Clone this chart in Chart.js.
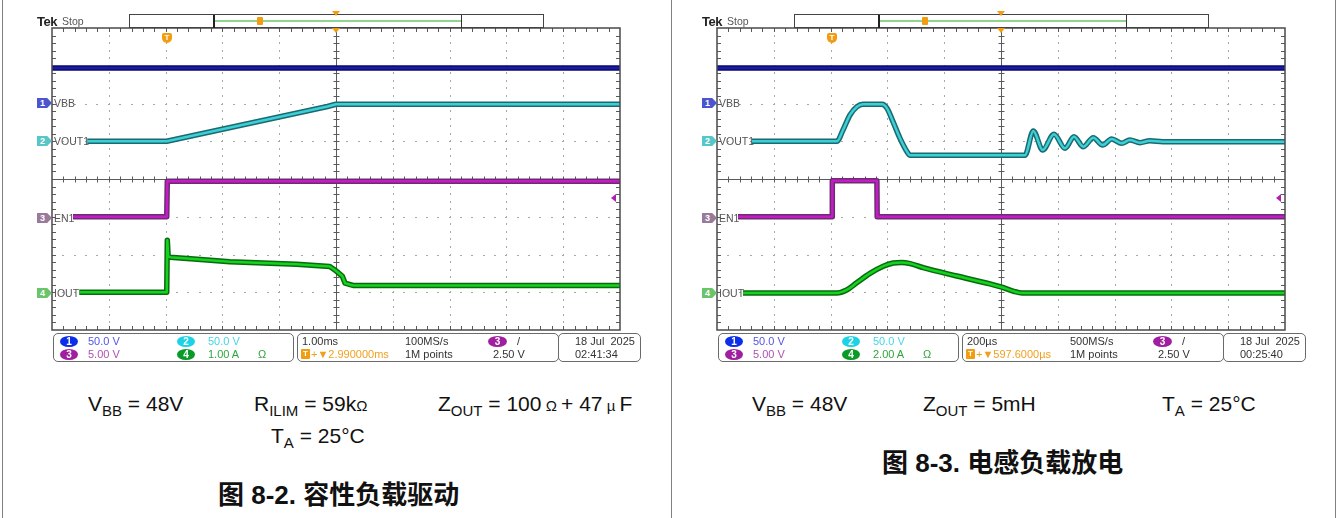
<!DOCTYPE html>
<html><head><meta charset="utf-8">
<script src="https://cdn.jsdelivr.net/npm/chart.js@4"></script>
<style>
html,body{margin:0;padding:0;background:#fff;}
body{width:1338px;height:518px;position:relative;overflow:hidden;font-family:"Liberation Sans",Arial,sans-serif;}
.abs{position:absolute;white-space:nowrap;}
.vline{position:absolute;width:1px;background:#808080;top:0;height:518px;}
canvas{position:absolute;}
.tek{font-weight:bold;font-size:13px;line-height:13px;color:#222;letter-spacing:-0.5px;}
.stop{font-size:10.5px;line-height:11px;color:#555;}
.st{font-size:11px;line-height:11px;color:#444;}
.badge{width:18px;height:11px;border-radius:50%;color:#fff;font-size:10px;line-height:11px;text-align:center;font-weight:bold;}
.box{border:1px solid #6a6a6a;border-radius:5px;background:#fff;}
.chl{font-size:10.5px;line-height:11px;color:#555;}
.pent{width:15px;height:10px;clip-path:polygon(0 0,68% 0,100% 50%,68% 100%,0 100%);font-size:9px;line-height:10px;color:#fff;text-indent:3px;font-weight:bold;}
.tri{width:0;height:0;border-left:4px solid transparent;border-right:4px solid transparent;border-top:5px solid #f39c12;}
.tmk{width:10px;height:10px;background:#f39c12;border-radius:2px 2px 5px 5px;color:#fff;font-size:8px;line-height:10px;text-align:center;font-weight:bold;}
.cap{font-size:21px;line-height:21px;color:#111;}
.cap sub{font-size:15px;vertical-align:-5px;line-height:0;}
.cap .sm{font-size:15px;}
.title{font-family:"Liberation Sans","Noto Sans CJK SC",sans-serif;font-weight:bold;font-size:26px;line-height:26px;color:#111;}
</style></head>
<body>
<div class="vline" style="left:2px"></div>
<div class="vline" style="left:671px"></div>
<div class="vline" style="left:1335px"></div>
<canvas id="cl" width="592" height="320" style="left:40px;top:20px"></canvas>
<canvas id="cr" width="592" height="320" style="left:705px;top:20px"></canvas>
<script>
// ---------------- DATA ----------------
// Left capture (capacitive load): time in ms from left edge of screen, 1 ms/div
const L_CH1_T = [0, 10];
const L_CH1_V = [47, 47];
const L_CH2_T = [0.62, 2.02, 4.85, 5.0, 10];
const L_CH2_V = [0, 0, 46, 49, 49];
const L_CH3_T = [0.37, 2.02, 2.03, 10];
const L_CH3_V = [0, 0, 4.7, 4.7];
const L_CH4_T = [0.48, 2.02, 2.03, 2.045, 2.08, 2.5, 3.13, 4.31, 4.89, 4.98, 5.11, 5.16, 5.3, 10];
const L_CH4_A = [0, 0, 1.38, 0.95, 0.93, 0.88, 0.81, 0.74, 0.68, 0.59, 0.43, 0.24, 0.18, 0.18];

// Right capture (inductive load): time in µs from left edge of screen, 200 µs/div
const R_CH1_T = [0, 2000];
const R_CH1_V = [47, 47];
const R_CH2_T = [123, 422.5, 443.7, 468.3, 493, 514, 581, 598.6, 619.7, 644.4, 669, 679.6, 1084.5, 1113.7, 1146.8, 1186.6, 1225.4, 1257, 1289.8, 1325, 1358, 1389.7, 1425, 1454, 1489, 1524, 1570, 2000];
const R_CH2_V = [0, 0, 14.9, 34.8, 45.8, 48.9, 48.9, 43.6, 25.9, 3.9, -13.8, -18.5, -18.5, 13.6, -11.6, 9.2, -9.4, 6.0, -7.2, 4.7, -5.0, 3.0, -2.7, 1.7, -1.9, 0.7, -0.5, -0.5];
const R_CH3_T = [74, 405, 406, 563, 564, 2000];
const R_CH3_V = [0, 0, 4.77, 4.77, 0, 0];
const R_CH4_T = [91.5, 421.5, 456.7, 491.9, 538.7, 585.6, 620.8, 650, 680, 726.4, 844, 961.3, 1000, 1045, 1074, 2000];
const R_CH4_A = [-0.04, -0.04, 0.12, 0.5, 1.0, 1.38, 1.55, 1.58, 1.52, 1.3, 0.86, 0.44, 0.28, 0.05, -0.04, -0.04];

// Vertical settings per channel: units/div and reference position (divisions above centre)
const L_SCALE = [50, 50, 5, 1];
const R_SCALE = [50, 50, 5, 2];
const CH_OFFSET_DIV = [2, 1, -1, -3];
const TRIG_LEVEL_V = 2.5;

// Texts
const CH_NAMES = ['VBB', 'VOUT1', 'EN1', 'IOUT'];
const L_SCALE_TXT = ['50.0 V', '50.0 V', '5.00 V', '1.00 A'];
const R_SCALE_TXT = ['50.0 V', '50.0 V', '5.00 V', '2.00 A'];
const L_STATUS = {tb: '1.00ms', pos: '+\u25BC2.990000ms', rate: '100MS/s', date: '18 Jul\u00A0\u00A02025', time: '02:41:34'};
const R_STATUS = {tb: '200\u00B5s', pos: '+\u25BC597.6000\u00B5s', rate: '500MS/s', date: '18 Jul\u00A0\u00A02025', time: '00:25:40'};

// ---------------- COLOURS ----------------
const CORE = ['#1b1ba8', '#3ccfd6', '#c21dc4', '#14d21e'];
const EDGE = ['#0b0b6a', '#1b6a70', '#6e2a72', '#0a6a10'];
const BADGE = ['#0d2ee8', '#1ed2e6', '#a01fa0', '#0a9a28'];
const TXTC = ['#5454e6', '#44d6e6', '#b050b0', '#2fa53c'];
const PENT = ['#4a55cf', '#57c6c8', '#9a7a9a', '#6ac46a'];

const pts = (t, v) => t.map((x, i) => ({x, y: v[i]}));

const graticule = {
  id: 'graticule',
  beforeDatasetsDraw(chart) {
    const {ctx, chartArea: a} = chart;
    const W = a.right - a.left, H = a.bottom - a.top, dx = W / 10, dy = H / 8;
    ctx.save();
    ctx.fillStyle = '#a8a8a8';
    for (let i = 1; i < 10; i++) {
      if (i === 5) continue;
      const x = Math.round(a.left + i * dx);
      for (let k = 1; k < 40; k++) ctx.fillRect(x, Math.round(a.top + k * dy / 5) - 1, 1, 2);
    }
    for (let j = 1; j < 8; j++) {
      if (j === 4) continue;
      const y = Math.round(a.top + j * dy);
      for (let k = 1; k < 50; k++) ctx.fillRect(Math.round(a.left + k * dx / 5) - 1, y, 2, 1);
    }
    const cx = Math.round(a.left + 5 * dx) + 0.5, cy = Math.round(a.top + 4 * dy) + 0.5;
    ctx.strokeStyle = '#5a5a5a'; ctx.lineWidth = 1;
    ctx.beginPath();
    ctx.moveTo(cx, a.top); ctx.lineTo(cx, a.bottom);
    ctx.moveTo(a.left, cy); ctx.lineTo(a.right, cy);
    for (let k = 1; k < 40; k++) { const y = Math.round(a.top + k * dy / 5) + 0.5; ctx.moveTo(cx - 3, y); ctx.lineTo(cx + 3, y);
      ctx.moveTo(a.left, y); ctx.lineTo(a.left + 4, y); ctx.moveTo(a.right - 4, y); ctx.lineTo(a.right, y); }
    for (let k = 1; k < 50; k++) { const x = Math.round(a.left + k * dx / 5) + 0.5; ctx.moveTo(x, cy - 3); ctx.lineTo(x, cy + 3);
      ctx.moveTo(x, a.top); ctx.lineTo(x, a.top + 4); ctx.moveTo(x, a.bottom - 4); ctx.lineTo(x, a.bottom); }
    ctx.stroke();
    ctx.restore();
  },
  afterDraw(chart) {
    const {ctx, chartArea: a} = chart;
    ctx.save();
    ctx.strokeStyle = '#4a4a4a'; ctx.lineWidth = 1.5;
    ctx.strokeRect(a.left, a.top, a.right - a.left, a.bottom - a.top);
    const y = chart.scales.y3.getPixelForValue(TRIG_LEVEL_V);
    ctx.fillStyle = '#b020b0';
    ctx.beginPath(); ctx.moveTo(a.right - 9, y); ctx.lineTo(a.right - 4, y - 4); ctx.lineTo(a.right - 4, y + 4); ctx.closePath(); ctx.fill();
    ctx.restore();
  }
};

function makeScope(id, xMax, scales, series, monotone) {
  const datasets = [];
  series.forEach((s, c) => {
    const data = pts(s[0], s[1]);
    const common = {data, yAxisID: 'y' + (c + 1), pointRadius: 0, tension: 0,
      cubicInterpolationMode: monotone[c] ? 'monotone' : 'default', borderJoinStyle: 'round', borderCapStyle: 'butt'};
    datasets.push(Object.assign({}, common, {borderColor: EDGE[c], borderWidth: 5.5, order: 1}));
    datasets.push(Object.assign({}, common, {borderColor: CORE[c], borderWidth: 2.5, order: 0}));
  });
  const sc = {x: {type: 'linear', min: 0, max: xMax, display: false}};
  scales.forEach((s, c) => {
    const centre = -CH_OFFSET_DIV[c] * s;
    sc['y' + (c + 1)] = {type: 'linear', display: false, min: centre - 4 * s, max: centre + 4 * s};
  });
  new Chart(document.getElementById(id), {
    type: 'line',
    data: {datasets},
    options: {
      responsive: false, animation: false, devicePixelRatio: 1,
      layout: {padding: {left: 12, top: 8, right: 12, bottom: 10}},
      plugins: {legend: {display: false}, tooltip: {enabled: false}},
      scales: sc,
      elements: {line: {fill: false}}
    },
    plugins: [graticule]
  });
}

makeScope('cl', 10, L_SCALE, [[L_CH1_T, L_CH1_V], [L_CH2_T, L_CH2_V], [L_CH3_T, L_CH3_V], [L_CH4_T, L_CH4_A]], [false, false, false, false]);
makeScope('cr', 2000, R_SCALE, [[R_CH1_T, R_CH1_V], [R_CH2_T, R_CH2_V], [R_CH3_T, R_CH3_V], [R_CH4_T, R_CH4_A]], [false, true, false, true]);

// ---------------- OVERLAY TEXT / DECORATIONS ----------------
function el(html, cls, x, y, css) {
  const d = document.createElement('div');
  d.className = 'abs ' + cls;
  d.style.left = x + 'px'; d.style.top = y + 'px';
  if (css) d.style.cssText += css;
  d.innerHTML = html;
  document.body.appendChild(d);
  return d;
}
function decorate(dx, scaleTxt, st) {
  el('Tek', 'tek', 37 + dx, 15);
  el('Stop', 'stop', 62 + dx, 16);
  el('', 'box', 129 + dx, 14, 'width:413px;height:12px;border-radius:0;border-color:#444;');
  el('', '', 213 + dx, 15, 'width:2px;height:13px;background:#222;');
  el('', '', 461 + dx, 15, 'width:1px;height:13px;background:#333;');
  el('', '', 215 + dx, 20, 'width:246px;height:2px;background:#8fd48f;');
  el('', '', 257 + dx, 17, 'width:6px;height:8px;background:#f39c12;border-radius:1px;');
  el('', 'tri', 332 + dx, 11);
  el('', 'tri', 332 + dx, 28);
  el('T', 'tmk', 162 + dx, 33);
  const ys = [103, 141, 218, 293];
  ys.forEach((y, c) => {
    el(String(c + 1), 'pent', 37 + dx, y - 5, 'background:' + PENT[c] + ';');
    el(CH_NAMES[c], 'chl', 54 + dx, y - 5);
  });
  el('', 'box', 53 + dx, 333, 'width:239px;height:27px;');
  el('', 'box', 297 + dx, 333, 'width:260px;height:27px;');
  el('', 'box', 558 + dx, 333, 'width:81px;height:27px;');
  const bx = [60, 177, 60, 177], by = [336, 336, 349, 349], tx = [88, 208, 88, 208];
  for (let c = 0; c < 4; c++) {
    el(String(c + 1), 'badge', bx[c] + dx, by[c], 'background:' + BADGE[c] + ';');
    el(scaleTxt[c], 'st', tx[c] + dx, by[c], 'color:' + TXTC[c] + ';');
  }
  el('\u03A9', 'st', 258 + dx, 349, 'color:' + TXTC[3] + ';');
  el(st.tb, 'st', 302 + dx, 336, 'color:#333;');
  el('T', 'tmk', 301 + dx, 349, 'width:9px;height:10px;border-radius:1px;');
  el(st.pos, 'st', 311 + dx, 349, 'color:#f0a020;');
  el(st.rate, 'st', 405 + dx, 336, 'color:#333;');
  el('1M points', 'st', 405 + dx, 349, 'color:#333;');
  el('3', 'badge', 488 + dx, 336, 'background:' + BADGE[2] + ';width:19px;');
  el('/', 'st', 517 + dx, 336, 'color:#333;');
  el('2.50 V', 'st', 493 + dx, 349, 'color:#333;');
  el(st.date, 'st', 575 + dx, 336, 'color:#333;');
  el(st.time, 'st', 575 + dx, 349, 'color:#333;');
}
decorate(0, L_SCALE_TXT, L_STATUS);
decorate(665, R_SCALE_TXT, R_STATUS);

// captions
el('V<sub>BB</sub> = 48V', 'cap', 88, 393);
el('R<sub>ILIM</sub> = 59k<span class="sm">\u03A9</span>', 'cap', 254, 393);
el('Z<sub>OUT</sub> = 100<span class="sm"> \u03A9 </span> + 47<span class="sm"> \u00B5 </span>F', 'cap', 438, 393);
el('T<sub>A</sub> = 25\u00B0C', 'cap', 271, 425);
el('图 8-2. 容性负载驱动', 'title', 218, 482);
el('V<sub>BB</sub> = 48V', 'cap', 752, 393);
el('Z<sub>OUT</sub> = 5mH', 'cap', 923, 393);
el('T<sub>A</sub> = 25\u00B0C', 'cap', 1162, 393);
el('图 8-3. 电感负载放电', 'title', 882, 450);
</script>
</body></html>
